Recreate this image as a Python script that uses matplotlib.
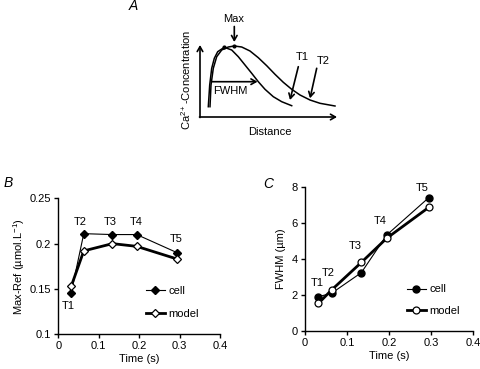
import matplotlib
matplotlib.use("Agg")
import matplotlib.pyplot as plt
from matplotlib.ticker import FuncFormatter

plt.rcParams['font.family'] = ['Liberation Sans', 'DejaVu Sans']
plt.rcParams['mathtext.fontset'] = 'custom'
plt.rcParams['mathtext.rm'] = 'Liberation Sans'
plt.rcParams['mathtext.it'] = 'Liberation Sans'
plt.rcParams['mathtext.default'] = 'regular'

# ---- Data ----
labels = ["T1", "T2", "T3", "T4", "T5"]
time_s = [0.032, 0.063, 0.134, 0.194, 0.294]
max_cell = [0.146, 0.211, 0.210, 0.210, 0.190]
max_model = [0.153, 0.192, 0.200, 0.197, 0.183]
fwhm_cell = [1.91, 2.10, 3.25, 5.34, 7.42]
fwhm_model = [1.54, 2.28, 3.82, 5.16, 6.88]

# Panel A schematic curves (pixel coords)
t1_x = [208.3, 209.7, 211.7, 214.3, 217.7, 224.3, 231.7, 238.3, 245.0, 251.7, 258.3, 265.0, 273.3, 281.7, 291.7]
t1_y = [106.7, 85.0, 68.3, 58.3, 51.7, 47.3, 50.0, 56.7, 65.0, 73.3, 81.7, 89.3, 96.7, 101.7, 105.7]
t2_x = [210.0, 211.0, 213.3, 216.7, 221.7, 228.3, 234.3, 241.7, 250.0, 258.3, 266.7, 275.0, 283.3, 291.7, 300.0, 310.0, 320.0, 335.0]
t2_y = [106.7, 85.0, 68.3, 56.7, 50.0, 47.0, 46.0, 47.0, 51.0, 57.7, 65.7, 74.3, 82.3, 89.3, 95.0, 100.0, 103.3, 106.0]

W, H = 480, 369
fig = plt.figure(figsize=(W / 100, H / 100), dpi=100)
FS = 8

def frac(l, t, r, b):
    return [l / W, (H - b) / H, (r - l) / W, (b - t) / H]

fmt = FuncFormatter(lambda v, p: "%g" % round(v, 3))

def style(ax):
    for s in ("top", "right"):
        ax.spines[s].set_visible(False)
    for s in ("left", "bottom"):
        ax.spines[s].set_linewidth(1.0)
    ax.tick_params(direction="out", length=3, width=1.0, labelsize=FS, pad=2)
    ax.xaxis.set_major_formatter(fmt)
    ax.yaxis.set_major_formatter(fmt)

# ---- Panel B ----
axB = fig.add_axes(frac(58.3, 198.3, 220, 334.3))
style(axB)
axB.plot(time_s, max_cell, color="black", lw=0.8, marker="D", ms=4.5,
         mfc="black", mec="black", label="cell", zorder=3)
axB.plot(time_s, max_model, color="black", lw=2.0, marker="D", ms=4.5,
         mfc="white", mec="black", mew=0.9, label="model", zorder=3)
axB.set_xlim(0, 0.4)
axB.set_ylim(0.1, 0.25)
axB.set_xticks([0, 0.1, 0.2, 0.3, 0.4])
axB.set_yticks([0.1, 0.15, 0.2, 0.25])
axB.set_xlabel("Time (s)", fontsize=FS, labelpad=2)
axB.set_ylabel("Max-Ref (µmol.L$^{-1}$)", fontsize=FS, labelpad=2)
offB = [(-2.5, -13.5), (-4, 12), (-2, 13), (-1, 13), (-1, 14)]
for i, lab in enumerate(labels):
    yv = min(max_cell[i], max_model[i]) if i == 0 else max(max_cell[i], max_model[i])
    axB.annotate(lab, (time_s[i], yv), xytext=offB[i], textcoords="offset pixels",
                 ha="center", va="center", fontsize=FS)
axB.legend(loc="center left", bbox_to_anchor=(146 / W, (H - 302.5) / H),
           bbox_transform=fig.transFigure, frameon=False, fontsize=FS,
           handlelength=1.7, handletextpad=0.3, labelspacing=1.2,
           borderpad=0, borderaxespad=0)

# ---- Panel C ----
axC = fig.add_axes(frac(305, 187.3, 473.3, 331))
style(axC)
axC.plot(time_s, fwhm_cell, color="black", lw=0.8, marker="o", ms=5,
         mfc="black", mec="black", label="cell", zorder=3)
axC.plot(time_s, fwhm_model, color="black", lw=2.0, marker="o", ms=5,
         mfc="white", mec="black", mew=0.9, label="model", zorder=3)
axC.set_xlim(0, 0.4)
axC.set_ylim(0, 8)
axC.set_xticks([0, 0.1, 0.2, 0.3, 0.4])
axC.set_yticks([0, 2, 4, 6, 8])
axC.set_xlabel("Time (s)", fontsize=FS, labelpad=2)
axC.set_ylabel("FWHM (µm)", fontsize=FS, labelpad=4)
offC = [(-1.5, 14), (-3.5, 17), (-6, 16), (-6.5, 14), (-7, 9.5)]
for i, lab in enumerate(labels):
    yv = max(fwhm_cell[i], fwhm_model[i])
    axC.annotate(lab, (time_s[i], yv), xytext=offC[i], textcoords="offset pixels",
                 ha="center", va="center", fontsize=FS)
axC.legend(loc="center left", bbox_to_anchor=(407 / W, (H - 300) / H),
           bbox_transform=fig.transFigure, frameon=False, fontsize=FS,
           handlelength=1.7, handletextpad=0.3, labelspacing=1.0,
           borderpad=0, borderaxespad=0)

# ---- Panel A (schematic) ----
axA = fig.add_axes([0, 0, 1, 1], facecolor="none")
axA.set_xlim(0, W)
axA.set_ylim(H, 0)
axA.axis("off")
axA.plot(t1_x, t1_y, color="black", lw=1.1)
axA.plot(t2_x, t2_y, color="black", lw=1.1)
axA.plot([t1_x[5], t2_x[6]], [t1_y[5], t2_y[6]], "o", color="black", ms=2)
arrow = dict(arrowstyle="->,head_length=0.35,head_width=0.2", color="black", lw=1.2,
             shrinkA=0, shrinkB=0)
axA.annotate("", xy=(200, 45), xytext=(200, 117.5), arrowprops=arrow)
axA.annotate("", xy=(337, 117), xytext=(199.5, 117), arrowprops=arrow)
axA.annotate("", xy=(257.5, 81.7), xytext=(211.7, 81.7), arrowprops=arrow)
axA.annotate("", xy=(234.3, 42), xytext=(234.3, 26.5), arrowprops=arrow)
axA.annotate("", xy=(290, 100), xytext=(298.3, 66.7), arrowprops=arrow)
axA.annotate("", xy=(310, 98.3), xytext=(316.7, 68.3), arrowprops=arrow)
axA.text(233.5, 18.5, "Max", ha="center", va="center", fontsize=FS)
axA.text(213, 91.5, "FWHM", ha="left", va="center", fontsize=FS)
axA.text(302, 56.5, "T1", ha="center", va="center", fontsize=FS)
axA.text(323.5, 61, "T2", ha="center", va="center", fontsize=FS)
axA.text(270, 132, "Distance", ha="center", va="center", fontsize=FS)
axA.text(186, 80, "Ca$^{2+}$-Concentration", ha="center", va="center",
         rotation=90, fontsize=FS)

# Panel letters
axA.text(133, 6, "A", ha="center", va="center", fontsize=10, style="italic")
axA.text(8, 183, "B", ha="center", va="center", fontsize=10, style="italic")
axA.text(268, 183.5, "C", ha="center", va="center", fontsize=10, style="italic")

fig.savefig("out.png", dpi=100)
